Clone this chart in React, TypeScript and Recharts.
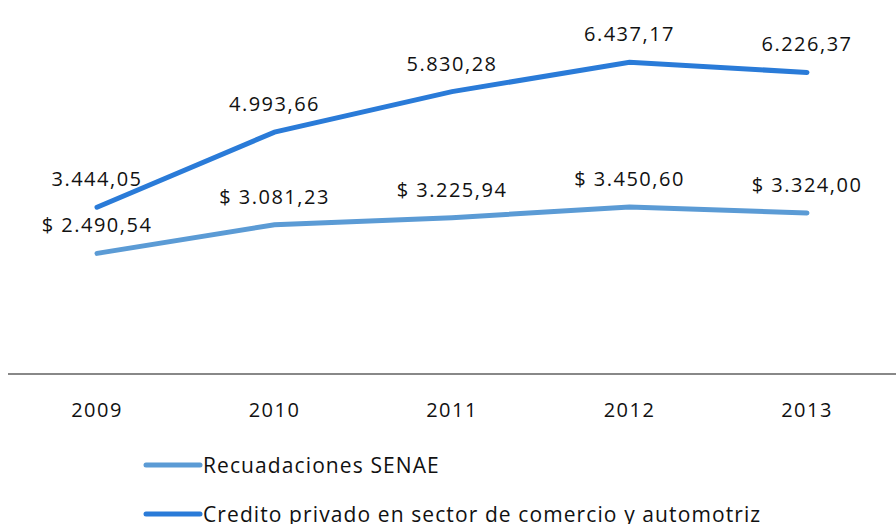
import { LineChart, Line, XAxis, YAxis, LabelList } from 'recharts';

const years = ['2009', '2010', '2011', '2012', '2013'];
const recaudaciones = [2490.54, 3081.23, 3225.94, 3450.6, 3324.0];
const credito = [3444.05, 4993.66, 5830.28, 6437.17, 6226.37];

const RECAUDA_COLOR = '#5b9bd5';
const CREDITO_COLOR = '#2a7bd8';
const FONT = '"Open Sans", sans-serif';

const data = years.map((year, i) => ({
  year,
  recaudaciones: recaudaciones[i],
  credito: credito[i],
}));

// 3444.05 -> "3.444,05"
function fmt(v: number) {
  const [int, dec] = v.toFixed(2).split('.');
  return int.replace(/\B(?=(\d{3})+(?!\d))/g, '.') + ',' + dec;
}

function makeLabel(prefix: string) {
  return (props: any) => {
    const { x, y, value } = props;
    return (
      <text
        x={x}
        y={y - 21}
        textAnchor="middle"
        fontSize={20}
        letterSpacing={1.5}
        fontFamily={FONT}
        fill="#111"
      >
        {prefix + fmt(value)}
      </text>
    );
  };
}

function LegendBox() {
  const items = [
    { label: 'Recuadaciones SENAE', color: RECAUDA_COLOR },
    { label: 'Credito privado en sector de comercio y automotriz', color: CREDITO_COLOR },
  ];
  return (
    <div
      style={{
        position: 'absolute',
        left: 143,
        top: 440,
        fontFamily: FONT,
        fontSize: 21,
        letterSpacing: 1.1,
        color: '#111',
      }}
    >
      {items.map((it) => (
        <div key={it.label} style={{ display: 'flex', alignItems: 'center', height: 49, whiteSpace: 'nowrap' }}>
          <svg width={60} height={10}>
            <line x1={3} y1={5} x2={57} y2={5} stroke={it.color} strokeWidth={5} strokeLinecap="round" />
          </svg>
          <span>{it.label}</span>
        </div>
      ))}
    </div>
  );
}

export default function App() {
  return (
    <div style={{ position: 'absolute', left: 0, top: 0, width: 896, height: 524, overflow: 'hidden', background: '#fff' }}>
      <LineChart
        width={896}
        height={524}
        data={data}
        margin={{ top: 35, right: 0, bottom: 90, left: 8 }}
      >
        <XAxis
          dataKey="year"
          axisLine={{ stroke: '#888', strokeWidth: 2 }}
          tickLine={false}
          height={60}
          tickMargin={23}
          padding={{ left: 89, right: 89 }}
          tick={{ fontSize: 20, fontFamily: FONT, fill: '#111', letterSpacing: 1.5 }}
        />
        <YAxis hide domain={[0, 7000]} />
        <Line
          dataKey="recaudaciones"
          stroke={RECAUDA_COLOR}
          strokeWidth={5}
          strokeLinecap="round"
          dot={false}
          isAnimationActive={false}
        >
          <LabelList dataKey="recaudaciones" content={makeLabel('$ ')} />
        </Line>
        <Line
          dataKey="credito"
          stroke={CREDITO_COLOR}
          strokeWidth={5}
          strokeLinecap="round"
          dot={false}
          isAnimationActive={false}
        >
          <LabelList dataKey="credito" content={makeLabel('')} />
        </Line>
      </LineChart>
      <LegendBox />
    </div>
  );
}
